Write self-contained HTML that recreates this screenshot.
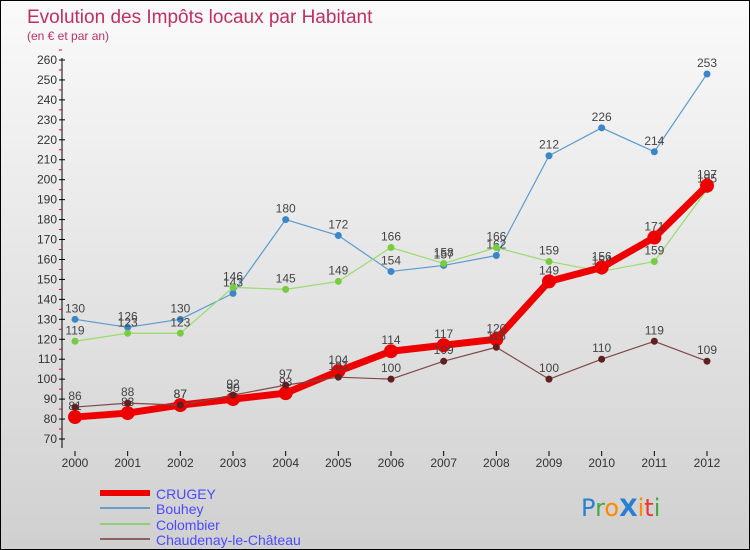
<!DOCTYPE html>
<html><head><meta charset="utf-8"><style>
body{margin:0;}
#wrap{position:relative;width:748px;height:548px;border:1px solid #000;background:linear-gradient(#fafafa,#d0d0d0);font-family:"Liberation Sans","DejaVu Sans",sans-serif;overflow:hidden}
</style></head><body>
<div id="wrap">
<svg id="chart" width="748" height="548">
<text x="26" y="22" font-size="19" fill="#c0305f">Evolution des Impôts locaux par Habitant</text>
<text x="26" y="39" font-size="12" fill="#c0305f">(en € et par an)</text>
<g id="axes"></g><g id="series"></g>
<g>
<rect x="99" y="489" width="50" height="6" fill="#e00"/>
<text x="155" y="498" font-size="14" fill="#4a4aff">CRUGEY</text>
<rect x="99" y="506" width="50" height="2" fill="#6b9fc8"/>
<text x="155" y="513" font-size="14" fill="#4a4aff">Bouhey</text>
<rect x="99" y="522" width="50" height="2" fill="#90d070"/>
<text x="155" y="529" font-size="14" fill="#4a4aff">Colombier</text>
<rect x="99" y="537" width="50" height="2" fill="#906060"/>
<text x="155" y="544" font-size="14" fill="#4a4aff">Chaudenay-le-Château</text>
</g>
<text x="580" y="515" font-size="24" font-family="'DejaVu Sans',sans-serif"><tspan fill="#2a7fd0">P</tspan><tspan fill="#4a4">r</tspan><tspan fill="#f80">o</tspan><tspan fill="#2a7fd0" font-weight="bold">X</tspan><tspan fill="#f80">i</tspan><tspan fill="#e33">t</tspan><tspan fill="#4a4">i</tspan></text>
</svg>
</div>
<script>
const years=[2000,2001,2002,2003,2004,2005,2006,2007,2008,2009,2010,2011,2012];
const crugey=[81,83,87,90,93,104,114,117,120,149,156,171,197];
const bouhey=[130,126,130,143,180,172,154,157,162,212,226,214,253];
const colombier=[119,123,123,146,145,149,166,158,166,159,154,159,195];
const chaudenay=[86,88,87,92,97,101,100,109,116,100,110,119,109];
const yTicks=[70,80,90,100,110,120,130,140,150,160,170,180,190,200,210,220,230,240,250,260];
const NS="http://www.w3.org/2000/svg";
const x=i=>74+i*(632/12);
const y=v=>438-(v-70)*(379/190);
function mk(tag,attrs,parent){const e=document.createElementNS(NS,tag);for(const k in attrs)e.setAttribute(k,attrs[k]);parent.appendChild(e);return e;}
const ax=document.getElementById('axes');
const yl=mk('line',{x1:61,y1:57,x2:61,y2:447,stroke:'#000'},ax);


yTicks.forEach(t=>{
 mk('line',{x1:58,x2:64,y1:y(t),y2:y(t),stroke:'#000'},ax);
 mk('line',{x1:58,x2:61,y1:y(t+5),y2:y(t+5),stroke:'#e00'},ax);
 const tx=mk('text',{x:56,y:y(t)+4,'font-size':12,'text-anchor':'end',fill:'#333'},ax);
 tx.textContent=t;
 
 
});
years.forEach((yr,i)=>{
 mk('line',{x1:x(i),x2:x(i),y1:450,y2:455,stroke:'#000'},ax);
 const tx=mk('text',{x:x(i),y:466,'font-size':12,'text-anchor':'middle',fill:'#333'},ax);
 tx.textContent=yr;
 
 
});
const sg=document.getElementById('series');
function series(data,name,color,dot,w,r){
 const g=mk('g',{},sg);
 
 
 const p=mk('polyline',{points:data.map((v,i)=>x(i)+','+y(v)).join(' '),fill:'none',stroke:color,'stroke-width':w,'stroke-linejoin':'round'},g);
 
 
 data.forEach((v,i)=>{
  const c=mk('circle',{cx:x(i),cy:y(v),r:r,fill:dot},g);
  
  
  const t=mk('text',{x:x(i),y:y(v)-7,'font-size':12,'text-anchor':'middle',fill:'#444'},g);
  t.textContent=v;
  
  
 });
}
series(bouhey,'bouhey','#5a9ad0','#3a86c8',1.2,3.5);
series(colombier,'colombier','#98dc6c','#78cc40',1.2,3.5);
series(crugey,'crugey','#ee0000','#ee0000',7,7);
series(chaudenay,'chaudenay','#804848','#602020',1.2,3.5);
</script>
</body></html>
